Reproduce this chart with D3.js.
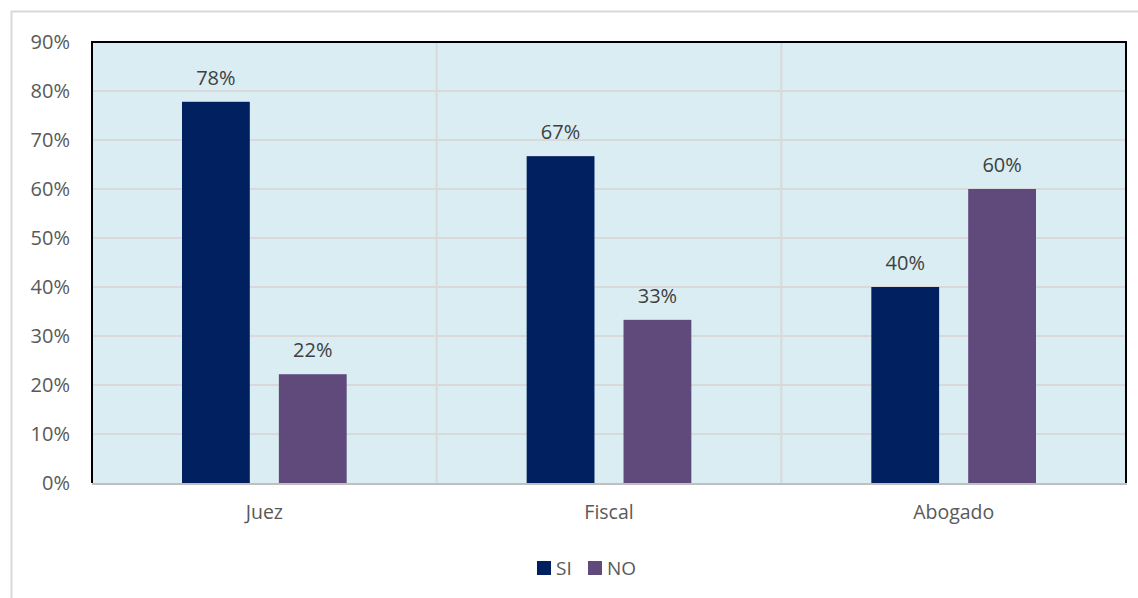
<!DOCTYPE html>
<html>
<head>
<meta charset="utf-8">
<script src="https://cdn.jsdelivr.net/npm/d3@7"></script>
<style>
  body { margin: 0; background: #fff; }
  text { font-family: "Open Sans", "Noto Sans", sans-serif; }
</style>
</head>
<body>
<div id="chart"></div>
<script>
// data
const categories = ['Juez', 'Fiscal', 'Abogado'];
const seriesNames = ['SI', 'NO'];
const siValues = [0.778, 0.667, 0.40];
const noValues = [0.222, 0.333, 0.60];
const yTicks = [0, 0.1, 0.2, 0.3, 0.4, 0.5, 0.6, 0.7, 0.8, 0.9];

const colors = { SI: '#002060', NO: '#604a7b' };

const W = 1138, H = 598;
const margin = { top: 42, left: 92, right: 12, bottom: 115 };
const width = W - margin.left - margin.right,
      height = H - margin.top - margin.bottom;

const svg = d3.select('#chart').append('svg')
    .attr('width', W)
    .attr('height', H);

// outer chart border
svg.append('rect')
    .attr('x', 11.5).attr('y', 11.5)
    .attr('width', W).attr('height', H)
    .attr('fill', 'none')
    .attr('stroke', '#d9d9d9')
    .attr('stroke-width', 2);

const g = svg.append('g')
    .attr('transform', 'translate(' + margin.left + ',' + margin.top + ')');

const y = d3.scaleLinear().domain([0, 0.9]).range([height, 0]);
const x0 = d3.scaleBand().domain(categories).range([0, width]);
const x1 = d3.scaleBand().domain(seriesNames)
    .range([90, x0.bandwidth() - 90])
    .paddingInner(0.3);

// plot background
g.append('rect')
    .attr('width', width).attr('height', height)
    .attr('fill', '#daedf3');

// horizontal gridlines
g.selectAll('.grid')
  .data(yTicks.slice(1))
  .enter().append('line')
    .attr('x1', 0).attr('x2', width)
    .attr('y1', d => y(d)).attr('y2', d => y(d))
    .attr('stroke', '#d9d9d9')
    .attr('stroke-width', 2);

// vertical category separators
g.selectAll('.vsep')
  .data(categories.slice(1))
  .enter().append('line')
    .attr('x1', d => x0(d)).attr('x2', d => x0(d))
    .attr('y1', 0).attr('y2', height)
    .attr('stroke', '#d9d9d9')
    .attr('stroke-width', 2);

const rows = categories.map((c, i) => ({ cat: c, SI: siValues[i], NO: noValues[i] }));

const groups = g.selectAll('.cat')
  .data(rows)
  .enter().append('g')
    .attr('transform', d => 'translate(' + x0(d.cat) + ',0)');

const bars = groups.selectAll('.bar')
  .data(d => seriesNames.map(s => ({ s: s, v: d[s] })))
  .enter();

bars.append('rect')
    .attr('x', d => x1(d.s))
    .attr('y', d => y(d.v))
    .attr('width', x1.bandwidth())
    .attr('height', d => height - y(d.v))
    .attr('fill', d => colors[d.s]);

bars.append('text')
    .attr('x', d => x1(d.s) + x1.bandwidth() / 2)
    .attr('y', d => y(d.v) - 17)
    .attr('text-anchor', 'middle')
    .attr('font-size', '20px')
    .attr('fill', '#404040')
    .text(d => d3.format('.0%')(d.v));

// plot frame: black left, top, right
g.append('path')
    .attr('d', 'M0,' + height + 'V0H' + width + 'V' + height)
    .attr('fill', 'none')
    .attr('stroke', '#000')
    .attr('stroke-width', 2);

// x axis line
g.append('line')
    .attr('x1', 0).attr('x2', width + 1)
    .attr('y1', height + 1).attr('y2', height + 1)
    .attr('stroke', '#bfbfbf')
    .attr('stroke-width', 2);

// y axis labels
const yAxis = d3.axisLeft(y)
    .tickValues(yTicks)
    .tickFormat(d3.format('.0%'))
    .tickSize(0)
    .tickPadding(22);

g.append('g').call(yAxis)
  .call(a => a.select('.domain').remove())
  .selectAll('text')
    .attr('font-size', '20px')
    .attr('fill', '#595959')
    .style('font-family', '"Open Sans", "Noto Sans", sans-serif');

// x axis labels
const xAxis = d3.axisBottom(x0).tickSize(0).tickPadding(22);
g.append('g')
    .attr('transform', 'translate(0,' + height + ')')
    .call(xAxis)
  .call(a => a.select('.domain').remove())
  .selectAll('text')
    .attr('font-size', '19.5px')
    .attr('fill', '#595959')
    .style('font-family', '"Open Sans", "Noto Sans", sans-serif');

// legend
const legend = svg.append('g')
    .attr('transform', 'translate(537,561)');

const legX = [0, 51];
seriesNames.forEach((s, i) => {
  const lg = legend.append('g').attr('transform', 'translate(' + legX[i] + ',0)');
  lg.append('rect')
    .attr('width', 14).attr('height', 14)
    .attr('fill', colors[s]);
  lg.append('text')
    .attr('x', 19).attr('y', 14)
    .attr('font-size', '19px')
    .attr('fill', '#595959')
    .text(s);
});
</script>
</body>
</html>
